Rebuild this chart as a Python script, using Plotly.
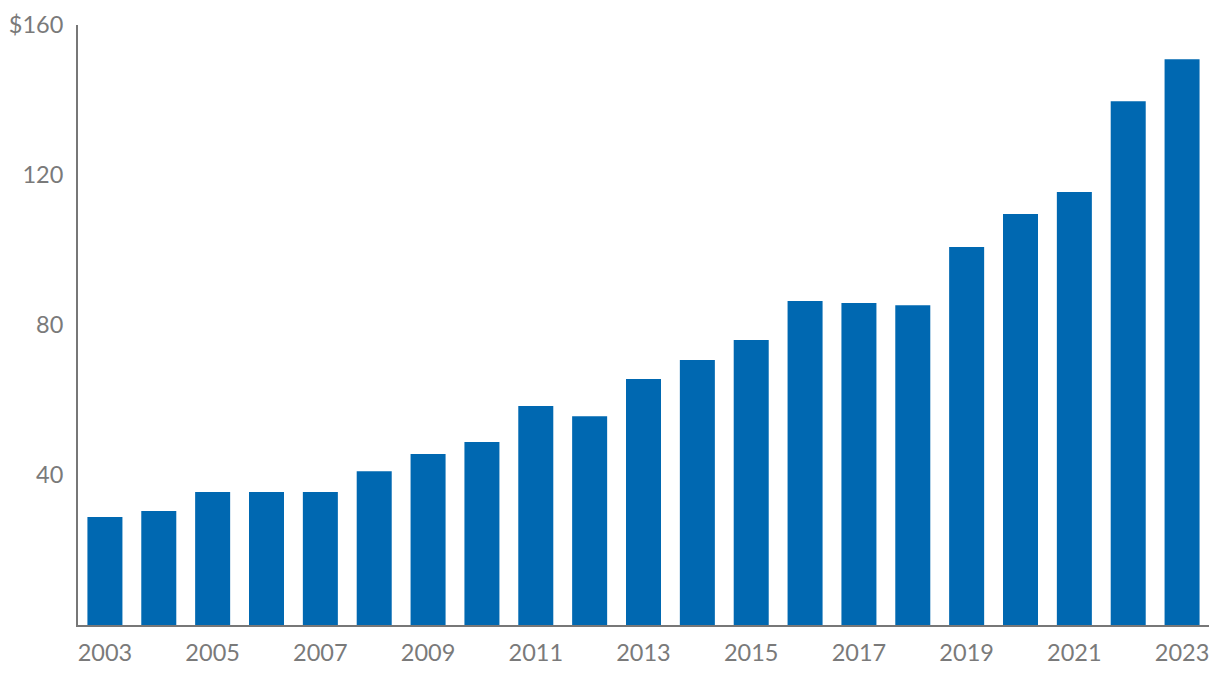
import plotly.graph_objects as go

years = [str(y) for y in range(2003, 2024)]
values = [28.8, 30.4, 35.5, 35.5, 35.5, 41.0, 45.6, 48.8, 58.4, 55.7, 65.6,
          70.7, 76.0, 86.4, 85.9, 85.3, 100.8, 109.6, 115.5, 139.7, 150.9]
x_tick_labels = years[::2]
y_tick_vals = [40, 80, 120, 160]
y_tick_text = ["40", "80", "120", "$160"]

fig = go.Figure(go.Bar(x=years, y=values, marker_color="#0068B1",
                       marker_line_width=0))

fig.update_layout(
    width=1212, height=676,
    margin=dict(l=70, r=11, t=17, b=59, pad=0),
    paper_bgcolor="white", plot_bgcolor="white",
    bargap=0.35,
    showlegend=False,
    font=dict(family="Lato", size=23.5, color="#7a7a7a"),
)
fig.update_xaxes(type="category", tickvals=x_tick_labels, ticktext=x_tick_labels,
                 showline=True, linecolor="#777777", linewidth=2,
                 showgrid=False, ticks="", ticklabelstandoff=6, automargin=False)
fig.update_yaxes(range=[0, 160], tickvals=y_tick_vals, ticktext=y_tick_text,
                 showline=True, linecolor="#777777", linewidth=2,
                 showgrid=False, zeroline=False, ticks="", ticklabelstandoff=8,
                 automargin=False)

fig.write_html("out.html")
